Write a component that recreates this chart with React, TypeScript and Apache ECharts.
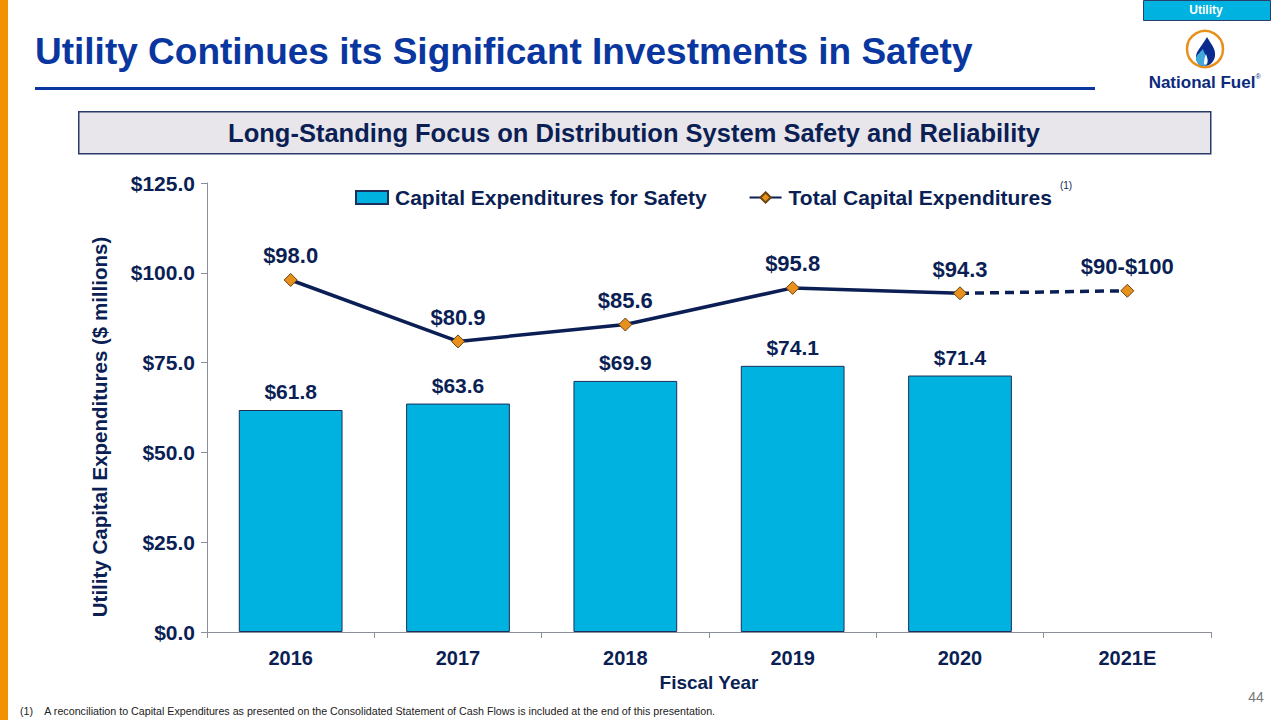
import React, { useEffect, useRef } from "react";
import * as echarts from "echarts";

const categories = ["2016", "2017", "2018", "2019", "2020", "2021E"];
const safetyValues: (number | null)[] = [61.8, 63.6, 69.9, 74.1, 71.4, null];
const totalValues: (number | null)[] = [98.0, 80.9, 85.6, 95.8, 94.3, null];
const totalEstimate: (number | null)[] = [null, null, null, null, 94.3, 95.0];
const totalLabels = ["$98.0", "$80.9", "$85.6", "$95.8", "$94.3", "$90-$100"];
const yTicks = { min: 0, max: 125, interval: 25 };

const NAVY = "#0B1F55";
const BLUE = "#0A36A0";
const CYAN = "#00B2E0";
const ORANGE = "#E8901C";
const AXIS = "#8A8F99";
const FONT = "'Liberation Sans', Arial, sans-serif";

echarts.graphic.registerShape(
  "flameOuter",
  echarts.graphic.extendPath(
    "M2,-14 C6,-7 11,-2 10,5 C9,11 5,15 -1,15 C-6,15 -9,11 -9,6 C-9,0 -3,-5 2,-14 Z",
    {}
  )
);
echarts.graphic.registerShape(
  "flameInner",
  echarts.graphic.extendPath(
    "M-2,-2 C-1,3 3,6 3,10 C3,13 1,15 -1,15 C-6,15 -9,11 -9,7 C-8,3 -4,1 -2,-2 Z",
    {}
  )
);
echarts.graphic.registerShape(
  "flameCore",
  echarts.graphic.extendPath(
    "M1,3 C2,6 3,9 2,12 C1,14 -1,14 -1,12 C-1,9 0,6 1,3 Z",
    {}
  )
);

export default function App() {
  const ref = useRef<HTMLDivElement>(null);
  useEffect(() => {
    if (!ref.current) return;
    const chart = echarts.init(ref.current, null, { renderer: "svg" });
    chart.setOption({
      animation: false,
      backgroundColor: "#ffffff",
      textStyle: { fontFamily: FONT },
      grid: { left: 207, right: 69, top: 183, bottom: 88, containLabel: false },
      legend: {
        top: 182,
        left: 350,
        itemGap: 42,
        itemWidth: 32,
        itemHeight: 13,
        data: [
          { name: "Capital Expenditures for Safety", icon: "rect" },
          { name: "Total Capital Expenditures" },
        ],
        textStyle: {
          fontFamily: FONT,
          fontSize: 21,
          fontWeight: "bold",
          color: NAVY,
          padding: [0, 0, 0, 2],
        },
      },
      xAxis: {
        type: "category",
        data: categories,
        axisLine: { show: true, lineStyle: { color: AXIS, width: 1 } },
        axisTick: { show: true, length: 6, lineStyle: { color: AXIS } },
        axisLabel: { fontFamily: FONT, fontSize: 20, fontWeight: "bold", color: NAVY, margin: 16 },
        name: "Fiscal Year",
        nameLocation: "middle",
        nameGap: 38,
        nameTextStyle: { fontFamily: FONT, fontSize: 19, fontWeight: "bold", color: NAVY },
      },
      yAxis: {
        type: "value",
        min: yTicks.min,
        max: yTicks.max,
        interval: yTicks.interval,
        axisLine: { show: true, lineStyle: { color: AXIS, width: 1 } },
        axisTick: { show: true, length: 6, lineStyle: { color: AXIS } },
        splitLine: { show: false },
        axisLabel: {
          fontFamily: FONT,
          fontSize: 21,
          fontWeight: "bold",
          color: NAVY,
          margin: 12,
          formatter: (v: number) => "$" + v.toFixed(1),
        },
      },
      series: [
        {
          name: "Capital Expenditures for Safety",
          type: "bar",
          data: safetyValues,
          barWidth: "62%",
          itemStyle: { color: CYAN, borderColor: "#1B2F5A", borderWidth: 1 },
          label: {
            show: true,
            position: "top",
            distance: 8,
            fontFamily: FONT,
            fontSize: 21,
            fontWeight: "bold",
            color: NAVY,
            formatter: (p: any) => "$" + Number(p.value).toFixed(1),
          },
        },
        {
          name: "Total Capital Expenditures",
          type: "line",
          data: totalValues,
          symbol: "diamond",
          symbolSize: 13,
          lineStyle: { color: NAVY, width: 3.5 },
          itemStyle: { color: ORANGE, borderColor: "#6B4210", borderWidth: 1 },
          label: {
            show: true,
            position: "top",
            distance: 6,
            fontFamily: FONT,
            fontSize: 22,
            fontWeight: "bold",
            color: NAVY,
            formatter: (p: any) => totalLabels[p.dataIndex],
          },
          z: 5,
        },
        {
          name: "Total Capital Expenditures",
          type: "line",
          data: totalEstimate.map((v, i) => (i === 4 ? { value: v, symbol: "none" } : v)),
          symbol: "diamond",
          symbolSize: 13,
          lineStyle: { color: NAVY, width: 3.5, type: [9, 6] },
          itemStyle: { color: ORANGE, borderColor: "#6B4210", borderWidth: 1 },
          label: {
            show: true,
            position: "top",
            distance: 6,
            fontFamily: FONT,
            fontSize: 22,
            fontWeight: "bold",
            color: NAVY,
            formatter: (p: any) => (p.dataIndex === 5 ? totalLabels[5] : ""),
          },
          z: 4,
        },
      ],
      graphic: [
        { type: "rect", left: 0, top: 0, shape: { width: 8, height: 720 }, style: { fill: "#F39200" } },
        {
          type: "text",
          x: 35,
          y: 51,
          style: {
            text: "Utility Continues its Significant Investments in Safety",
            fontFamily: FONT,
            fontSize: 37,
            fontWeight: "bold",
            fill: BLUE,
            verticalAlign: "middle",
          },
        },
        { type: "rect", left: 35, top: 87, shape: { width: 1060, height: 3 }, style: { fill: BLUE } },
        {
          type: "rect",
          left: 1143,
          top: 0,
          shape: { width: 127, height: 20 },
          style: { fill: CYAN, stroke: "#2A3F6A", lineWidth: 1 },
        },
        {
          type: "text",
          x: 1206,
          y: 10,
          style: {
            text: "Utility",
            fontFamily: FONT,
            fontSize: 12,
            fontWeight: "bold",
            fill: "#ffffff",
            align: "center",
            verticalAlign: "middle",
          },
        },
        {
          type: "circle",
          shape: { cx: 1205, cy: 49, r: 18 },
          style: { fill: "#ffffff", stroke: "#E8901C", lineWidth: 2.5 },
        },
        { type: "flameOuter", x: 1205, y: 51, style: { fill: "#0B2A8E" } },
        { type: "flameInner", x: 1205, y: 51, style: { fill: "#3FA9DC" } },
        { type: "flameCore", x: 1205, y: 51, style: { fill: "#ffffff" } },
        {
          type: "text",
          x: 1202,
          y: 82,
          style: {
            text: "National Fuel",
            fontFamily: FONT,
            fontSize: 17,
            fontWeight: "bold",
            fill: "#0B2A7E",
            align: "center",
            verticalAlign: "middle",
          },
        },
        {
          type: "text",
          x: 1258,
          y: 76,
          style: { text: "®", fontFamily: FONT, fontSize: 7, fill: "#0B2A7E", align: "center", verticalAlign: "middle" },
        },
        {
          type: "rect",
          left: 78,
          top: 111,
          shape: { width: 1132, height: 42 },
          style: { fill: "#E8E6EA", stroke: "#2A3A6A", lineWidth: 1.5 },
        },
        {
          type: "text",
          x: 634,
          y: 133,
          style: {
            text: "Long-Standing Focus on Distribution System Safety and Reliability",
            fontFamily: FONT,
            fontSize: 25.5,
            fontWeight: "bold",
            fill: NAVY,
            align: "center",
            verticalAlign: "middle",
          },
        },
        {
          type: "text",
          x: 99,
          y: 427,
          rotation: Math.PI / 2,
          style: {
            text: "Utility Capital Expenditures ($ millions)",
            fontFamily: FONT,
            fontSize: 20.5,
            fontWeight: "bold",
            fill: NAVY,
            align: "center",
            verticalAlign: "middle",
          },
        },
        {
          type: "text",
          x: 1066,
          y: 185,
          style: { text: "(1)", fontFamily: FONT, fontSize: 10, fill: NAVY, align: "center", verticalAlign: "middle" },
        },
        {
          type: "text",
          x: 20,
          y: 711,
          style: {
            text: "(1)    A reconciliation to Capital Expenditures as presented on the Consolidated Statement of Cash Flows is included at the end of this presentation.",
            fontFamily: FONT,
            fontSize: 10.7,
            fill: "#222222",
            verticalAlign: "middle",
          },
        },
        {
          type: "text",
          x: 1256,
          y: 697,
          style: { text: "44", fontFamily: FONT, fontSize: 14, fill: "#777777", align: "center", verticalAlign: "middle" },
        },
      ],
    });
    return () => chart.dispose();
  }, []);
  return <div ref={ref} style={{ position: "absolute", left: 0, top: 0, width: 1280, height: 720 }} />;
}
